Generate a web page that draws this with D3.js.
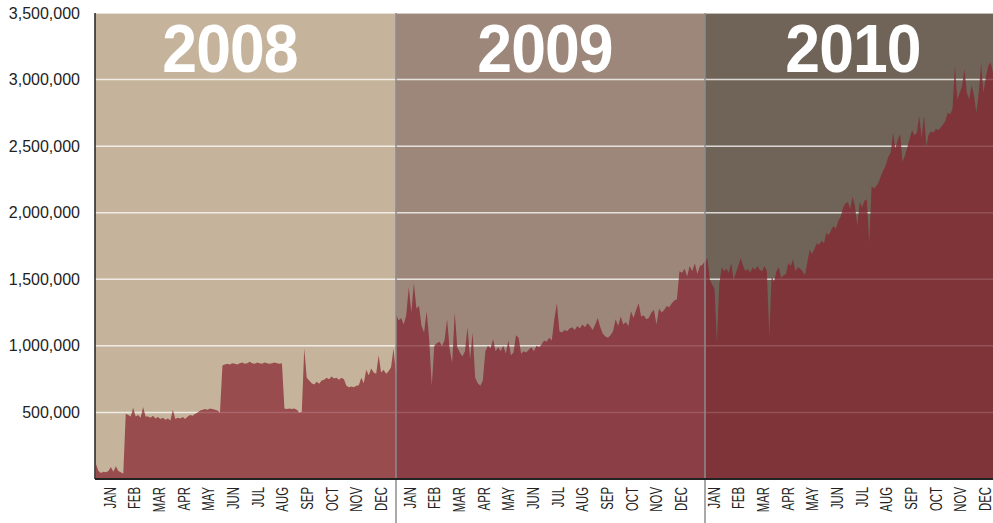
<!DOCTYPE html>
<html>
<head>
<meta charset="utf-8">
<script src="https://cdn.jsdelivr.net/npm/d3@7"></script>
<style>
body { margin: 0; background: #fff; }
text { font-family: "Liberation Sans", Arial, sans-serif; }
</style>
</head>
<body>
<div id="chart"></div>
<script>
var years = ["2008", "2009", "2010"];
var months = ["JAN", "FEB", "MAR", "APR", "MAY", "JUN", "JUL", "AUG", "SEP", "OCT", "NOV", "DEC"];
var yTicks = [500000, 1000000, 1500000, 2000000, 2500000, 3000000, 3500000];

// daily totals sampled every 3 days, in thousands
var values2008 = [110, 60, 45, 55, 50, 60, 90, 55, 95, 60, 50, 40,
    490, 480, 470, 535, 470, 480, 460, 540, 470,
    470, 460, 475, 455, 465, 450, 460, 445, 455, 440, 520, 450, 460,
    455, 465, 450, 470, 480, 475, 490, 500,
    515, 520, 525, 520, 530, 525, 520, 515, 500,
    855, 860, 865, 860, 870, 865, 860, 870, 875, 865, 870, 880, 870, 865, 875, 870, 865, 875, 870, 865, 870, 875, 870, 865, 870,
    530, 525, 530, 525, 530, 520, 500, 505,
    980, 760, 740, 720, 710, 730, 715, 740, 745, 760, 750, 770, 755, 760, 745, 760, 750, 700, 690, 695,
    690, 700, 705, 760, 720, 820, 780, 830, 800, 790, 930, 800, 820, 790, 810, 840, 980, 790];

var values2009 = [1240, 1190, 1210, 1160, 1230, 1440, 1250, 1470, 1280, 1300,
    1150, 1100, 1260, 1050, 700, 1000, 1020, 1030, 1000, 1040,
    1200, 980, 870, 1250, 990, 950, 920, 960, 1140, 900,
    1100, 760, 720, 700, 740, 960, 1000, 980, 1050, 960,
    990, 960, 1000, 940, 1040, 930, 950, 1080, 1060, 940,
    960, 950, 970, 990, 960, 1000, 990, 1010, 1040, 1030,
    1060, 1040, 1200, 1320, 1110, 1100, 1120, 1110, 1130, 1140,
    1120, 1150, 1130, 1160, 1140, 1170, 1150, 1120, 1160, 1210,
    1140, 1090, 1070, 1060, 1080, 1110, 1200, 1150, 1220, 1160,
    1180, 1150, 1260, 1210, 1270, 1320, 1220, 1230, 1200, 1210,
    1250, 1270, 1160, 1280, 1250, 1270, 1300, 1290, 1320, 1340,
    1350, 1560, 1550, 1580, 1520, 1600, 1560, 1620, 1540, 1600,
    1610, 1640];

var values2010 = [1620, 1660, 1500, 1460, 1430, 1020, 1460, 1590, 1560, 1580,
    1550, 1620, 1500, 1550, 1600, 1660, 1600, 1560, 1580, 1550,
    1590, 1570, 1600, 1570, 1560, 1600, 1560, 1070, 1520, 1480,
    1560, 1590, 1510, 1530, 1540, 1620, 1600, 1650, 1560, 1590,
    1580, 1560, 1530, 1630, 1720, 1690, 1730, 1770, 1760, 1790,
    1770, 1850, 1830, 1870, 1900, 1880, 1940, 1970, 2040, 2070,
    2080, 2030, 2120, 2050, 1900, 2080, 2040, 2090, 2100, 1770,
    2200, 2180, 2200, 2230, 2280, 2320, 2360, 2420, 2450, 2600,
    2480, 2550, 2590, 2380, 2430, 2490, 2560, 2620, 2580, 2600,
    2730, 2560, 2730, 2500, 2590, 2610, 2600, 2630, 2620, 2640,
    2660, 2690, 2750, 2740, 2780, 3100, 2850, 2900, 2950, 3080,
    2900, 2850, 2960, 2880, 2750, 2900, 3120, 2900, 3020, 3100,
    3130, 3050];

var series = [values2008, values2009, values2010];

var width = 993, height = 523;
var plotTop = 13, plotBottom = 479, plotLeft = 95;
var panelEdges = [95, 396, 705, 993];
var monthStarts = [97.5, 397.6, 701.4];
var monthSpan = 296;
var yearLabelX = [230, 545, 853];
var bgColors = ["#c5b49b", "#9d877a", "#6f6457"];
var areaColors = ["#994c4e", "#8b3e45", "#7f343a"];

var svg = d3.select("#chart").append("svg")
    .attr("width", width)
    .attr("height", height);

var y = d3.scaleLinear().domain([0, 3500000]).range([plotBottom, plotTop]);

// panel backgrounds
svg.selectAll("rect.panel")
    .data(years)
    .enter().append("rect")
    .attr("class", "panel")
    .attr("x", function (d, i) { return panelEdges[i]; })
    .attr("y", plotTop)
    .attr("width", function (d, i) { return panelEdges[i + 1] - panelEdges[i]; })
    .attr("height", plotBottom - plotTop)
    .attr("fill", function (d, i) { return bgColors[i]; });

// gridlines under the area
svg.selectAll("line.grid")
    .data(yTicks)
    .enter().append("line")
    .attr("class", "grid")
    .attr("x1", plotLeft)
    .attr("x2", width)
    .attr("y1", function (d) { return y(d); })
    .attr("y2", function (d) { return y(d); })
    .attr("stroke", "#ffffff")
    .attr("stroke-opacity", 0.7)
    .attr("stroke-width", 1.5);

// one area per year
series.forEach(function (vals, k) {
    var x = d3.scaleLinear()
        .domain([0, vals.length - 1])
        .range([panelEdges[k] + (k == 0 ? 1 : 0), panelEdges[k + 1]]);
    var area = d3.area()
        .x(function (d, i) { return x(i); })
        .y0(plotBottom)
        .y1(function (d) { return y(d * 1000); });
    svg.append("path")
        .datum(vals)
        .attr("d", area)
        .attr("fill", areaColors[k]);
});

// faint gridlines over the area
svg.selectAll("line.gridover")
    .data(yTicks)
    .enter().append("line")
    .attr("class", "gridover")
    .attr("x1", plotLeft)
    .attr("x2", width)
    .attr("y1", function (d) { return y(d); })
    .attr("y2", function (d) { return y(d); })
    .attr("stroke", "#ffffff")
    .attr("stroke-opacity", 0.15)
    .attr("stroke-width", 1.5);

// year dividers
svg.selectAll("line.divider")
    .data([panelEdges[1], panelEdges[2]])
    .enter().append("line")
    .attr("class", "divider")
    .attr("x1", function (d) { return d; })
    .attr("x2", function (d) { return d; })
    .attr("y1", plotTop)
    .attr("y2", height)
    .attr("stroke", "#8c8c8c")
    .attr("stroke-width", 1.5);

// big year labels
svg.selectAll("text.year")
    .data(years)
    .enter().append("text")
    .attr("class", "year")
    .attr("transform", function (d, i) { return "translate(" + yearLabelX[i] + ",72) scale(0.92,1)"; })
    .attr("text-anchor", "middle")
    .attr("font-size", 68)
    .attr("font-weight", "bold")
    .attr("letter-spacing", -1)
    .attr("fill", "#ffffff")
    .text(function (d) { return d; });

// y axis
var yAxis = svg.append("g")
    .attr("transform", "translate(" + plotLeft + ",0)")
    .call(d3.axisLeft(y).tickValues(yTicks).tickSize(0).tickPadding(15).tickFormat(d3.format(",")));
yAxis.select(".domain").remove();
yAxis.selectAll("text")
    .attr("font-family", "'Liberation Sans', Arial, sans-serif")
    .attr("font-size", 16)
    .attr("fill", "#222");

svg.append("line")
    .attr("x1", plotLeft).attr("x2", plotLeft)
    .attr("y1", plotTop).attr("y2", plotBottom)
    .attr("stroke", "#222")
    .attr("stroke-width", 1.5);

svg.append("line")
    .attr("x1", plotLeft).attr("x2", width)
    .attr("y1", plotBottom).attr("y2", plotBottom)
    .attr("stroke", "#222")
    .attr("stroke-width", 2);

// month labels per year
years.forEach(function (yr, k) {
    var mx = d3.scaleBand().domain(months).range([monthStarts[k], monthStarts[k] + monthSpan]);
    svg.selectAll("text.m" + yr)
        .data(months)
        .enter().append("text")
        .attr("class", "m" + yr)
        .attr("transform", function (d) {
            return "translate(" + (mx(d) + mx.bandwidth() / 2) + ",487) rotate(-90) scale(0.69,1)";
        })
        .attr("text-anchor", "end")
        .attr("dy", "0.35em")
        .attr("font-size", 16.5)
        .attr("fill", "#222")
        .text(function (d) { return d; });
});
</script>
</body>
</html>
